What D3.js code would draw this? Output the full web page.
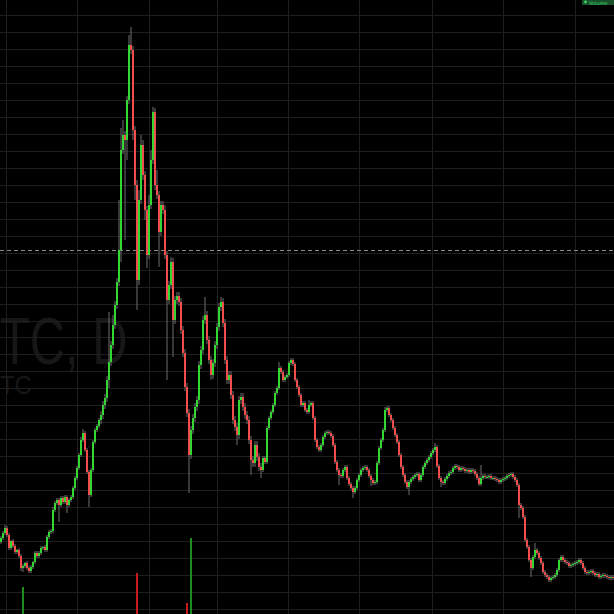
<!DOCTYPE html>
<html><head><meta charset="utf-8">
<script src="https://cdn.jsdelivr.net/npm/d3@7"></script>
<style>html,body{margin:0;padding:0;background:#000;overflow:hidden}</style>
</head><body><svg id="c" width="614" height="614"></svg>
<script>
// Daily closes (price units), one per session
const closes = [
76,81,86,79,66,73,68,62,64,58,
46,48,51,46,43,47,52,61,58,61,
66,67,64,77,82,83,104,111,114,109,
116,112,117,109,114,117,126,136,146,159,
174,181,164,142,119,144,172,184,188,194,
199,209,216,234,252,269,289,309,332,364,
464,479,474,514,569,564,484,429,334,414,
469,439,404,359,409,454,502,429,419,382,
409,404,359,314,329,352,294,314,318,312,
284,261,227,201,159,184,196,207,214,249,
264,294,299,274,254,239,251,269,287,307,
312,291,254,234,239,219,194,187,179,214,
217,207,199,194,174,154,151,169,157,147,
144,156,152,186,196,202,209,221,226,246,
242,234,237,239,251,254,250,234,227,219,
209,211,204,202,209,211,196,174,167,164,
169,177,181,182,181,178,169,152,144,139,
138,144,147,136,130,126,122,126,134,139,
144,146,147,144,138,134,131,132,151,166,
174,184,204,206,199,194,186,179,172,159,
147,139,132,127,132,135,137,139,140,134,
139,147,151,154,157,161,164,167,148,136,
132,131,135,138,141,142,146,148,147,144,
146,145,143,144,142,144,143,140,136,130,
136,138,137,137,138,136,136,135,134,132,
134,135,136,138,139,140,137,134,129,109,
106,97,74,67,54,46,57,64,61,56,
51,42,39,37,34,36,37,39,44,54,
57,54,52,51,48,49,50,51,52,54,
51,46,42,41,42,43,41,39,40,37,
38,39,38,37,36,37,36
];
const firstOpen = 72;
// Upper / lower shadow lengths (price units)
const upperWick = [
2,2,3,2,2,1,2,2,1,2,
2,2,1,2,2,2,1,2,2,2,
2,1,2,2,2,2,3,2,2,2,
2,2,2,2,2,2,2,2,2,2,
3,4,2,2,2,2,2,2,2,2,
4,4,4,4,50,4,10,4,4,50,
22,15,4,4,10,18,4,4,5,10,
10,5,4,4,10,10,5,4,15,4,
4,4,5,4,4,5,4,4,4,4,
4,4,4,4,4,4,4,4,4,4,
4,4,18,4,4,4,4,4,4,4,
5,4,4,4,4,4,4,4,4,4,
4,4,4,4,4,4,4,4,4,4,
4,2,2,2,2,2,2,2,2,6,
2,2,2,2,2,2,2,2,2,2,
2,2,2,2,5,2,2,2,2,2,
2,2,2,2,2,2,2,2,2,2,
2,2,2,2,2,2,2,2,2,2,
2,2,2,2,2,2,2,2,2,2,
2,2,3,2,2,2,2,2,2,2,
2,2,2,2,2,2,2,2,2,2,
2,2,2,2,2,2,2,4,2,2,
2,2,2,2,2,2,2,2,2,2,
2,2,2,2,2,2,2,2,2,2,
13,2,2,2,2,2,2,2,2,2,
2,2,2,2,2,2,2,2,2,2,
2,2,2,2,2,2,2,7,2,2,
2,2,2,2,2,2,2,2,2,2,
2,2,2,2,2,2,2,2,2,2,
2,2,2,2,2,2,2,2,2,2,
2,2,2,2,2,2,2
];
const lowerWick = [
2,2,2,2,2,2,2,2,2,2,
3,4,2,2,2,2,2,2,2,2,
2,2,2,2,2,2,2,2,2,17,
2,2,2,8,2,2,2,2,2,2,
2,2,2,2,12,2,2,2,2,2,
4,4,4,4,8,4,4,4,4,4,
12,4,100,20,4,4,10,15,30,5,
4,5,10,13,4,4,4,5,4,35,
4,4,4,80,4,4,37,4,4,4,
4,4,4,4,38,4,4,4,4,4,
4,4,4,4,4,5,4,4,4,4,
4,4,4,4,4,4,4,4,10,4,
4,4,4,4,4,15,4,4,4,4,
8,2,2,2,2,2,2,2,2,2,
2,2,2,2,2,2,2,2,2,2,
2,2,2,2,2,2,2,2,2,2,
2,2,2,2,2,2,2,2,2,10,
2,2,2,2,2,2,6,2,2,2,
2,2,2,2,2,6,2,2,2,2,
2,2,2,2,2,2,2,2,2,2,
2,2,2,2,8,2,2,2,2,2,
2,2,2,2,2,2,2,2,2,2,
5,2,2,2,2,2,2,2,2,2,
2,2,2,2,2,2,2,2,2,2,
2,2,2,2,2,2,2,2,2,2,
2,2,2,2,2,2,2,2,2,13,
2,2,2,2,2,9,2,2,2,2,
2,2,2,2,2,2,2,2,2,2,
2,2,2,2,2,2,2,2,2,2,
2,2,2,2,2,2,2,2,2,2,
2,2,2,2,2,2,2
];
// Volume spikes (session index, volume units)
const volumeIndex = [11, 68, 93, 95];
const volumeValue = [27, 41, 11, 76];
// Grid: price levels and month boundaries (session index)
const priceGrid = d3.range(0, 36).map(k => 5 + k * 16.97);
const timeGrid = [2.5, 38, 74, 108, 143.5, 179, 215.5, 251, 287];
const lastPrice = 364;
const watermark = ["TC, D", "TC"];

const W = 614, H = 614;
const svg = d3.select("#c");
svg.append("rect").attr("width", W).attr("height", H).attr("fill", "#000");

const x = d3.scaleLinear().domain([0, closes.length - 1]).range([1, 613]);
const y = d3.scaleLinear().domain([0, 614]).range([614, 0]);
const vy = d3.scaleLinear().domain([0, 100]).range([614, 514]);

const data = closes.map((c, i) => {
  const o = i === 0 ? firstOpen : closes[i - 1];
  return { i, o, c, h: Math.max(o, c) + upperWick[i], l: Math.min(o, c) - lowerWick[i] };
});

// watermark
svg.append("text")
  .attr("transform", "translate(0,364) scale(0.74,1)")
  .attr("text-anchor", "start")
  .attr("font-family", "Liberation Sans, Arial, sans-serif")
  .attr("font-size", 66).attr("fill", "#171717").text(watermark[0]);
svg.append("text")
  .attr("transform", "translate(0,394) scale(0.95,1)")
  .attr("text-anchor", "start")
  .attr("font-family", "Liberation Sans, Arial, sans-serif")
  .attr("font-size", 25).attr("fill", "#171717").text(watermark[1]);

// grid
const g = svg.append("g").attr("stroke", "#1e1e1e").attr("stroke-width", 1);
g.selectAll("line.h").data(priceGrid).join("line").attr("class", "h")
  .attr("x1", 0).attr("x2", W)
  .attr("y1", d => Math.round(y(d)) + 0.5).attr("y2", d => Math.round(y(d)) + 0.5);
g.selectAll("line.v").data(timeGrid).join("line").attr("class", "v")
  .attr("y1", 0).attr("y2", H)
  .attr("x1", d => Math.round(x(d)) + 0.5).attr("x2", d => Math.round(x(d)) + 0.5);

// volume
const vol = svg.append("g");
vol.selectAll("rect").data(volumeIndex.map((idx, k) => ({ idx, v: volumeValue[k] })))
  .join("rect")
  .attr("x", d => x(d.idx) - 1).attr("width", 2)
  .attr("y", d => vy(d.v)).attr("height", d => vy(0) - vy(d.v))
  .attr("fill", d => data[d.idx].c >= data[d.idx].o ? "#1e8c1e" : "#c8191e");

// last price dashed line
svg.append("line").attr("x1", 0).attr("x2", W)
  .attr("y1", Math.round(y(lastPrice)) + 0.5).attr("y2", Math.round(y(lastPrice)) + 0.5)
  .attr("stroke", "#8a8a8a").attr("stroke-width", 1).attr("stroke-dasharray", "4,3");

// candles
const cg = svg.append("g");
cg.selectAll("line").data(data).join("line")
  .attr("x1", d => x(d.i)).attr("x2", d => x(d.i))
  .attr("y1", d => y(d.h)).attr("y2", d => y(d.l))
  .attr("stroke", "#6e6e6e").attr("stroke-width", 1);
cg.selectAll("rect").data(data).join("rect")
  .attr("x", d => x(d.i) - 1).attr("width", 2)
  .attr("y", d => y(Math.max(d.o, d.c)))
  .attr("height", d => Math.max(1, Math.abs(y(d.o) - y(d.c))))
  .attr("fill", d => d.c >= d.o ? "#33d633" : "#f24d4d");

// top-right label
svg.append("rect").attr("x", 582).attr("y", -5).attr("width", 34).attr("height", 10).attr("fill", "#17502a");
svg.append("circle").attr("cx", 585.5).attr("cy", 2).attr("r", 1.4).attr("fill", "#3ddc6a");
svg.append("text").attr("x", 589).attr("y", 4.5).attr("font-size", 5)
  .attr("font-family", "DejaVu Sans, sans-serif").attr("fill", "#3ddc6a").text("Volume");
</script>
</body></html>
